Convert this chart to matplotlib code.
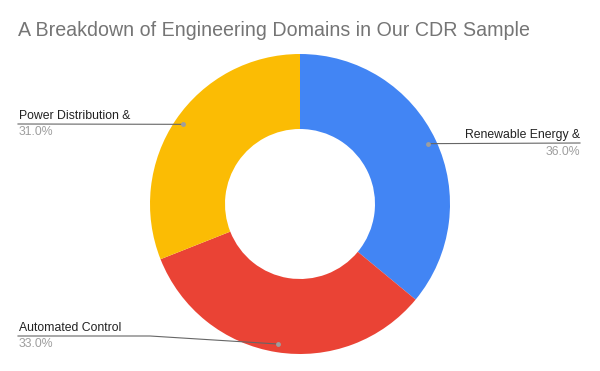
import numpy as np
import matplotlib.pyplot as plt

plt.rcParams['font.family'] = ['Liberation Sans', 'DejaVu Sans']

# data
domains = ['Renewable Energy &', 'Automated Control', 'Power Distribution &']
shares = [36.0, 33.0, 31.0]
colors = ['#4285F4', '#EA4335', '#FBBC04']
title = 'A Breakdown of Engineering Domains in Our CDR Sample'

W, H = 600, 371
fig = plt.figure(figsize=(W / 100, H / 100), dpi=100)
ax = fig.add_axes([0, 0, 1, 1])

cx, cy, R = 300, H - 204, 150
ax.pie(shares, colors=colors, startangle=90, counterclock=False,
       radius=R, center=(cx, cy), frame=True,
       wedgeprops=dict(width=R * 0.5, linewidth=0))
ax.set_xlim(0, W)
ax.set_ylim(0, H)
ax.set_aspect('equal')
ax.axis('off')

fig.text(18 / W, 1 - 31 / H, title, fontsize=14.1, color='#757575',
         ha='left', va='center')

# label placement: (side, line y in px)
layout = {
    'Renewable Energy &': ('right', 143),
    'Automated Control': ('left', 336),
    'Power Distribution &': ('left', 124),
}

fs = 8.8
total = sum(shares)
start = 0.0
for name, val in zip(domains, shares):
    mid = start + val / 2
    start += val
    ang = np.deg2rad(90 - 360 * mid / total)
    px = cx + 0.945 * R * np.cos(ang)
    py = cy + 0.945 * R * np.sin(ang)
    side, ly = layout[name]
    ly = H - ly
    ax.plot(px, py, 'o', ms=3.5, color='#9e9e9e', mec='none', zorder=5)
    if side == 'right':
        ax.plot([px, 580], [py, ly], color='#666666', lw=0.8, zorder=4)
        ax.text(580, ly + 8, name, ha='right', va='center', fontsize=fs, color='#222222')
        ax.text(580, ly - 9, f'{val:.1f}%', ha='right', va='center', fontsize=fs, color='#9e9e9e')
    else:
        if abs(py - ly) > 2:
            ax.plot([18, 150, px], [ly, ly, py], color='#666666', lw=0.8, zorder=4)
        else:
            ax.plot([18, px], [ly, py], color='#666666', lw=0.8, zorder=4)
        ax.text(19, ly + 8, name, ha='left', va='center', fontsize=fs, color='#222222')
        ax.text(19, ly - 8, f'{val:.1f}%', ha='left', va='center', fontsize=fs, color='#9e9e9e')

fig.savefig('out.png', dpi=100, facecolor='white')
